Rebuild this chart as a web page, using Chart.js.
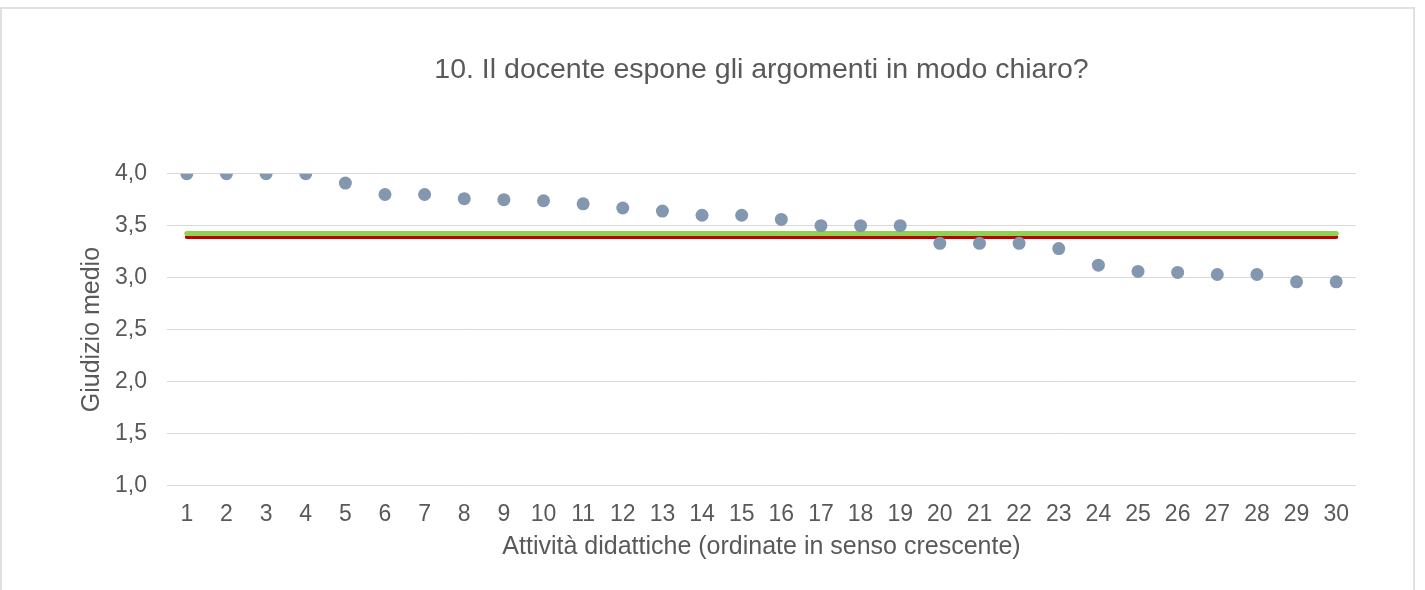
<!DOCTYPE html>
<html>
<head>
<meta charset="utf-8">
<title>10. Il docente espone gli argomenti in modo chiaro?</title>
<script src="https://cdn.jsdelivr.net/npm/chart.js@4/dist/chart.umd.min.js"></script>
<style>
  html, body { margin: 0; padding: 0; background: #fff; }
  #frame {
    position: absolute; left: 0; top: 7px;
    width: 1411px; height: 600px;
    border: 2px solid #e0e0e0;
  }
  #grafico { position: absolute; left: 0; top: 0; }
</style>
</head>
<body>
<div id="frame"></div>
<canvas id="grafico" width="1425" height="590"></canvas>
<script>
// attività didattiche, ordinate
const attivita = ['1', '2', '3', '4', '5', '6', '7', '8', '9', '10',
  '11', '12', '13', '14', '15', '16', '17', '18', '19', '20',
  '21', '22', '23', '24', '25', '26', '27', '28', '29', '30'];

// giudizio medio per ogni attività
const giudizi = [4.00, 4.00, 4.00, 4.00, 3.91, 3.80, 3.80, 3.76, 3.75, 3.74,
  3.71, 3.67, 3.64, 3.60, 3.60, 3.56, 3.50, 3.50, 3.50, 3.33,
  3.33, 3.33, 3.28, 3.12, 3.06, 3.05, 3.03, 3.03, 2.96, 2.96];

// medie di riferimento (linee orizzontali)
const mediaVerde = 3.425;
const mediaRossa = 3.39;

const titolo = '10. Il docente espone gli argomenti in modo chiaro?';
const titoloX = 'Attività didattiche (ordinate in senso crescente)';
const titoloY = 'Giudizio medio';

const grigio = '#595959';
const font = 'Liberation Sans, Arial, sans-serif';

function lineaMedia(valore) {
  return [
    { x: attivita[0], y: valore },
    { x: attivita[attivita.length - 1], y: valore }
  ];
}

new Chart(document.getElementById('grafico'), {
  type: 'line',
  data: {
    labels: attivita,
    datasets: [
      {
        label: 'Giudizio medio',
        data: giudizi,
        showLine: false,
        pointRadius: 6.5,
        pointHoverRadius: 6.5,
        pointBackgroundColor: 'rgb(132,151,176)',
        pointBorderWidth: 0
      },
      {
        label: 'Media verde',
        data: lineaMedia(mediaVerde),
        borderColor: '#92d050',
        borderWidth: 5,
        borderCapStyle: 'round',
        pointRadius: 0
      },
      {
        label: 'Media rossa',
        data: lineaMedia(mediaRossa),
        borderColor: '#c00000',
        borderWidth: 4,
        borderCapStyle: 'round',
        pointRadius: 0
      }
    ]
  },
  options: {
    responsive: false,
    animation: false,
    devicePixelRatio: 1,
    events: [],
    layout: { padding: { left: 77, right: 69, top: 0, bottom: 28 } },
    plugins: {
      legend: { display: false },
      tooltip: { enabled: false },
      title: {
        display: true,
        text: titolo,
        fullSize: false,
        color: grigio,
        font: { family: font, size: 28.5, weight: 'normal' },
        padding: { top: 53, bottom: 86.5 }
      }
    },
    scales: {
      x: {
        offset: true,
        afterFit: function (scale) { scale.height = 76.5; },
        grid: { display: false, drawTicks: false },
        border: { display: false },
        ticks: {
          color: grigio,
          font: { family: font, size: 23 },
          padding: 15,
          maxRotation: 0,
          autoSkip: false
        },
        title: {
          display: true,
          text: titoloX,
          color: grigio,
          font: { family: font, size: 25 },
          padding: { top: 0, bottom: 0 }
        }
      },
      y: {
        min: 1,
        max: 4,
        afterFit: function (scale) { scale.width = 90; },
        grid: { color: '#d9d9d9', lineWidth: 1, drawTicks: false },
        border: { display: false },
        ticks: {
          stepSize: 0.5,
          color: grigio,
          font: { family: font, size: 23 },
          padding: 20,
          callback: function (v) { return v.toFixed(1).replace('.', ','); }
        },
        title: {
          display: true,
          text: titoloY,
          color: grigio,
          font: { family: font, size: 25 },
          padding: { top: 0, bottom: 0 }
        }
      }
    }
  }
});
</script>
</body>
</html>
